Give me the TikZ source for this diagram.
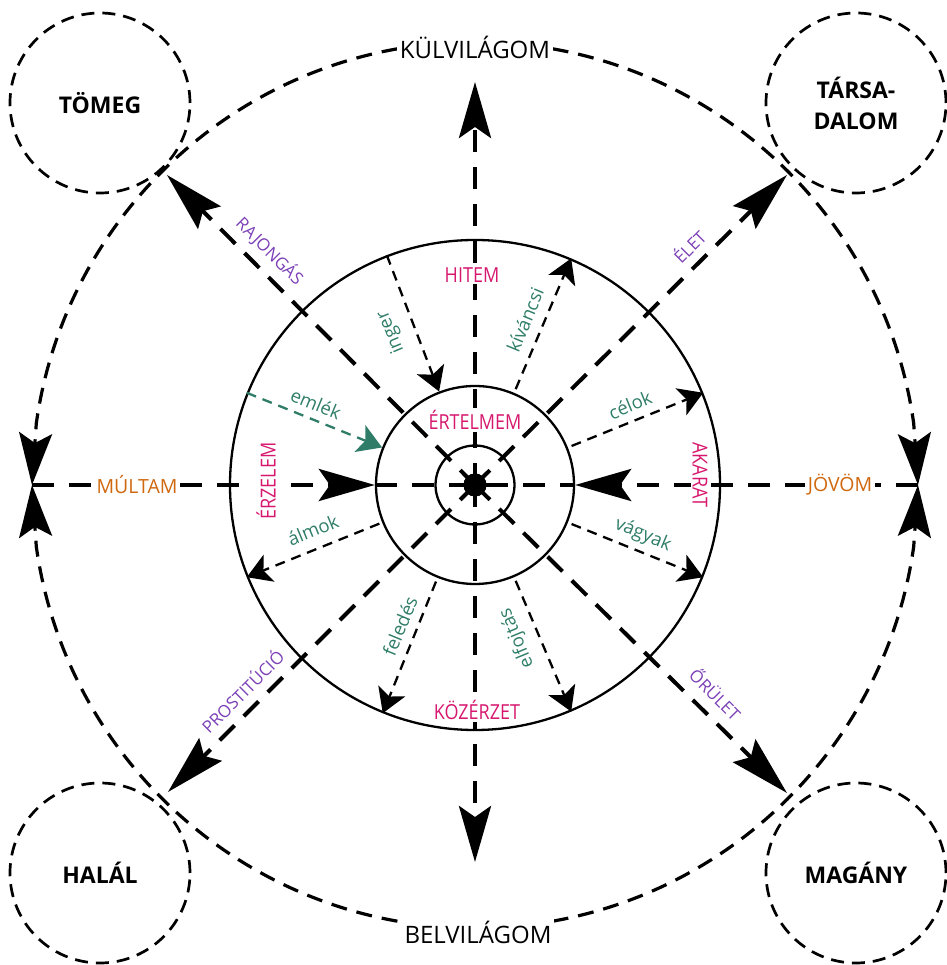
\documentclass[tikz,border=0pt]{standalone}
\usepackage{fontspec}
\setmainfont{Open Sans}
\usepackage{graphicx}
\usetikzlibrary{arrows.meta}
\definecolor{pinkc}{HTML}{D6186F}
\definecolor{greenc}{HTML}{2F7D68}
\definecolor{purplec}{HTML}{7B3FB6}
\definecolor{orangec}{HTML}{D0680F}
\newcommand{\tallt}[1]{\scalebox{1}[1.15]{#1}}
\begin{document}
\begin{tikzpicture}[x=1pt,y=1pt,
  axisline/.style={line width=4.5pt, dash pattern=on 22pt off 15pt},
  diagline/.style={line width=4pt, dash pattern=on 21pt off 13pt},
  bigcurve/.style={line width=3.2pt, dash pattern=on 16pt off 10pt},
  thinarrow/.style={line width=2.3pt, dash pattern=on 10pt off 7pt, -{Stealth[length=24pt,width=29pt,inset=6pt]}},
  bigtip/.style={-{Stealth[length=56pt,width=32pt,inset=11pt]}},
  diagtip/.style={-{Stealth[length=60pt,width=32pt,inset=9pt]}},
  curvetip/.style={-{Stealth[length=52pt,width=33pt,inset=10pt]}},
  solidcirc/.style={draw, circle, line width=2.3pt, inner sep=0pt},
  cornercirc/.style={draw, circle, line width=2.7pt, dash pattern=on 13pt off 8pt, minimum size=180pt, inner sep=0pt, font=\fontsize{23}{31}\selectfont\bfseries, align=center},
  blacklabel/.style={fill=white, inner sep=3pt, font=\fontsize{24}{28}\selectfont},
  pinklabel/.style={fill=white, inner sep=2pt, text=pinkc, font=\fontsize{18}{22}\selectfont},
  orangelabel/.style={fill=white, inner sep=3pt, text=orangec, font=\fontsize{19.5}{24}\selectfont},
  greenlabel/.style={inner sep=0pt, text=greenc, font=\fontsize{18.5}{22}\selectfont},
  purplelabel/.style={inner sep=0pt, text=purplec, font=\fontsize{17}{20}\selectfont},
]
\useasboundingbox (-475,-480) rectangle (471,485);

% named points
\coordinate (ctop) at (0,443);
\coordinate (cbot) at (0,-443);
\coordinate (past) at (-443,0);
\coordinate (future) at (443,0);
\coordinate (vtop) at (0,403);
\coordinate (vbot) at (0,-377);
\coordinate (tl) at (-308,310);
\coordinate (tr) at (312,310);
\coordinate (bl) at (-307,-307);
\coordinate (br) at (312,-308);

% big outer dashed curve
\draw[bigcurve, curvetip] (ctop) arc[start angle=90, end angle=172, radius=443] -- (past);
\draw[bigcurve, curvetip] (ctop) arc[start angle=90, end angle=8, radius=443] -- (future);
\draw[bigcurve, curvetip] (cbot) arc[start angle=270, end angle=188, radius=443] -- (past);
\draw[bigcurve, curvetip] (cbot) arc[start angle=270, end angle=352, radius=443] -- (future);

% corner circles
\node[cornercirc] (tomeg) at (-375,382) {TÖMEG};
\node[cornercirc] (tars) at (381,382) {TÁRSA-\\DALOM};
\node[cornercirc] (halal) at (-375,-388) {HALÁL};
\node[cornercirc] (magany) at (381,-388) {MAGÁNY};

% solid circles
\node[solidcirc, minimum size=490pt] (outer) at (0,0) {};
\node[solidcirc, minimum size=198pt] (mid) at (0,0) {};
\node[solidcirc, minimum size=79pt] (inner) at (0,0) {};
\node[circle, fill=black, minimum size=23pt, inner sep=0pt] (c) at (0,0) {};

% axes
\draw[axisline, bigtip] (past) -- (mid.west);
\draw[axisline, bigtip] (future) -- (mid.east);
\draw[axisline] (mid.west) -- (mid.east);
\draw[axisline, bigtip] (c.center) -- (vtop);
\draw[axisline, bigtip] (c.center) -- (vbot);

% diagonals
\draw[diagline, diagtip] (c.center) -- (tl);
\draw[diagline, diagtip] (c.center) -- (tr);
\draw[diagline, diagtip] (c.center) -- (bl);
\draw[diagline, diagtip] (c.center) -- (br);

% thin arrows
\draw[thinarrow, shorten <=4pt] (mid.67.5) -- (outer.67.5);
\draw[thinarrow, shorten <=4pt] (mid.22.5) -- (outer.22.5);
\draw[thinarrow, shorten <=4pt] (mid.-22.5) -- (outer.-22.5);
\draw[thinarrow, shorten <=4pt] (mid.-67.5) -- (outer.-67.5);
\draw[thinarrow, shorten <=4pt] (mid.-112.5) -- (outer.-112.5);
\draw[thinarrow, shorten <=3pt] (mid.202.5) -- (outer.202.5);
\draw[thinarrow] (outer.111.5) -- (mid.111.5);
\draw[thinarrow, draw=greenc] (outer.158) -- (mid.158);

% green labels
\node[greenlabel, rotate=112.5] (inger) at (-84,153) {inger};
\node[greenlabel, rotate=67.5] (kivancsi) at (50,165) {kíváncsi};
\node[greenlabel, rotate=22.5] (celok) at (155,80) {célok};
\node[greenlabel, rotate=-22.5] (vagyak) at (168,-50) {vágyak};
\node[greenlabel, rotate=112.5] (elfojtas) at (42,-153) {elfojtás};
\node[greenlabel, rotate=67.5] (feledes) at (-75,-141) {feledés};
\node[greenlabel, rotate=22.5] (almok) at (-162,-45) {álmok};
\node[greenlabel, rotate=-22.5] (emlek) at (-159,81) {emlék};

% purple labels
\node[purplelabel, rotate=-45] (rajongas) at (-205,234) {RAJONGÁS};
\node[purplelabel, rotate=45] (elet) at (214,239) {ÉLET};
\node[purplelabel, rotate=45] (prostitucio) at (-233,-206) {PROSTITÚCIÓ};
\node[purplelabel, rotate=-45] (orulet) at (241,-209) {ŐRÜLET};

% pink labels
\node[pinklabel] (hitem) at (-3,210) {\tallt{HITEM}};
\node[pinklabel] (ertelmem) at (0,65) {\tallt{ÉRTELMEM}};
\node[pinklabel, rotate=90] (erzelem) at (-209,4) {\tallt{ÉRZELEM}};
\node[pinklabel, rotate=-90] (akarat) at (225,10) {\tallt{AKARAT}};
\node[pinklabel] (kozerzet) at (2,-225) {\tallt{KÖZÉRZET}};

% orange labels
\node[orangelabel] (multam) at (-338,0) {MÚLTAM};
\node[orangelabel] (jovom) at (365,0) {JÖVÖM};

% black labels
\node[blacklabel] (kul) at (0,438) {KÜLVILÁGOM};
\node[blacklabel] (bel) at (3,-447) {BELVILÁGOM};

\fill (c.center) circle (11.5);
\end{tikzpicture}
\end{document}
